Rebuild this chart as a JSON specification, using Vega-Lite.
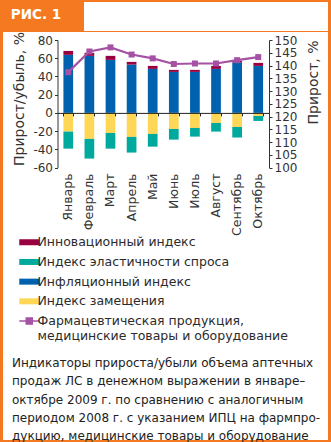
{
  "$schema": "https://vega.github.io/schema/vega-lite/v6.json",
  "background": "#F47920",
  "padding": {"left": 3, "right": 3, "top": 2, "bottom": 3},
  "spacing": 0,
  "datasets": {
    "bars": [
      {"m": "Январь", "s": "Инфляционный индекс", "v": 63.7},
      {"m": "Январь", "s": "Инновационный индекс", "v": 4.3},
      {"m": "Январь", "s": "Индекс замещения", "v": -20.5},
      {"m": "Январь", "s": "Индекс эластичности спроса", "v": -18.7},
      {"m": "Февраль", "s": "Инфляционный индекс", "v": 62.6},
      {"m": "Февраль", "s": "Инновационный индекс", "v": 3.3},
      {"m": "Февраль", "s": "Индекс замещения", "v": -28.5},
      {"m": "Февраль", "s": "Индекс эластичности спроса", "v": -21.6},
      {"m": "Март", "s": "Инфляционный индекс", "v": 58.2},
      {"m": "Март", "s": "Инновационный индекс", "v": 4.4},
      {"m": "Март", "s": "Индекс замещения", "v": -22.0},
      {"m": "Март", "s": "Индекс эластичности спроса", "v": -17.2},
      {"m": "Апрель", "s": "Инфляционный индекс", "v": 53.0},
      {"m": "Апрель", "s": "Инновационный индекс", "v": 3.0},
      {"m": "Апрель", "s": "Индекс замещения", "v": -26.3},
      {"m": "Апрель", "s": "Индекс эластичности спроса", "v": -17.2},
      {"m": "Май", "s": "Инфляционный индекс", "v": 48.3},
      {"m": "Май", "s": "Инновационный индекс", "v": 3.3},
      {"m": "Май", "s": "Индекс замещения", "v": -23.0},
      {"m": "Май", "s": "Индекс эластичности спроса", "v": -14.0},
      {"m": "Июнь", "s": "Инфляционный индекс", "v": 45.0},
      {"m": "Июнь", "s": "Инновационный индекс", "v": 2.2},
      {"m": "Июнь", "s": "Индекс замещения", "v": -17.6},
      {"m": "Июнь", "s": "Индекс эластичности спроса", "v": -11.7},
      {"m": "Июль", "s": "Инфляционный индекс", "v": 45.0},
      {"m": "Июль", "s": "Инновационный индекс", "v": 2.2},
      {"m": "Июль", "s": "Индекс замещения", "v": -16.5},
      {"m": "Июль", "s": "Индекс эластичности спроса", "v": -9.5},
      {"m": "Август", "s": "Инфляционный индекс", "v": 48.3},
      {"m": "Август", "s": "Инновационный индекс", "v": 3.3},
      {"m": "Август", "s": "Индекс замещения", "v": -11.0},
      {"m": "Август", "s": "Индекс эластичности спроса", "v": -9.5},
      {"m": "Сентябрь", "s": "Инфляционный индекс", "v": 55.5},
      {"m": "Сентябрь", "s": "Инновационный индекс", "v": 1.5},
      {"m": "Сентябрь", "s": "Индекс замещения", "v": -15.4},
      {"m": "Сентябрь", "s": "Индекс эластичности спроса", "v": -11.6},
      {"m": "Октябрь", "s": "Инфляционный индекс", "v": 51.6},
      {"m": "Октябрь", "s": "Инновационный индекс", "v": 3.3},
      {"m": "Октябрь", "s": "Индекс замещения", "v": -3.3},
      {"m": "Октябрь", "s": "Индекс эластичности спроса", "v": -5.5}
    ],
    "cpi": [
      {"m": "Январь", "v": 137.4},
      {"m": "Февраль", "v": 145.5},
      {"m": "Март", "v": 147.1},
      {"m": "Апрель", "v": 144.3},
      {"m": "Май", "v": 142.8},
      {"m": "Июнь", "v": 140.6},
      {"m": "Июль", "v": 140.8},
      {"m": "Август", "v": 140.8},
      {"m": "Сентябрь", "v": 142.1},
      {"m": "Октябрь", "v": 143.3}
    ]
  },
  "vconcat": [
    {
      "spacing": 0,
      "hconcat": [
        {
          "width": 81,
          "height": 29,
          "view": {"fill": "#F47920", "stroke": null},
          "data": {"values": [{"t": "РИС. 1"}]},
          "mark": {"type": "text", "color": "white", "font": "DejaVu Sans", "fontSize": 13.5, "fontWeight": "bold", "dx": -7.5, "dy": -1.5},
          "encoding": {"text": {"field": "t", "type": "nominal"}}
        },
        {
          "width": 244,
          "height": 29,
          "view": {"fill": "white", "stroke": null},
          "data": {"values": [{"t": ""}]},
          "mark": {"type": "text"},
          "encoding": {"text": {"field": "t", "type": "nominal"}}
        }
      ]
    },
    {
      "width": 325,
      "height": 408,
      "view": {"fill": "white", "stroke": null},
      "title": {
        "text": [
          "Индикаторы прироста/убыли объема аптечных",
          "продаж ЛС в денежном выражении в январе–",
          "октябре 2009 г. по сравнению с аналогичным",
          "периодом 2008 г. с указанием ИПЦ на фармпро-",
          "дукцию, медицинские товары и оборудование"
        ],
        "orient": "bottom",
        "anchor": "start",
        "frame": "group",
        "offset": -73,
        "dx": 9,
        "baseline": "alphabetic",
        "font": "DejaVu Sans",
        "fontSize": 12,
        "fontWeight": "normal",
        "lineHeight": 18.3,
        "color": "#222222"
      },
      "resolve": {"scale": {"y": "independent"}, "axis": {"x": "independent"}},
      "layer": [
        {
          "data": {"name": "bars"},
          "encoding": {
            "x": {
              "field": "m",
              "type": "nominal",
              "scale": {
                "domain": ["Январь", "Февраль", "Март", "Апрель", "Май", "Июнь", "Июль", "Август", "Сентябрь", "Октябрь"],
                "range": [54.5, 266],
                "paddingInner": 0.54,
                "paddingOuter": 0.28
              },
              "axis": {
                "orient": "bottom",
                "offset": -272.4,
                "title": null,
                "domain": false,
                "ticks": false,
                "tickSize": 0,
                "labelAngle": 270,
                "labelAlign": "right",
                "labelBaseline": "middle",
                "labelPadding": 5.4,
                "labelFontSize": 12.5
              }
            },
            "y": {
              "field": "v",
              "type": "quantitative",
              "stack": "zero",
              "scale": {"domain": [-60, 80], "range": [135.6, 8], "nice": false},
              "axis": {
                "orient": "left",
                "offset": -54.5,
                "values": [-60, -40, -20, 0, 20, 40, 60, 80],
                "labelExpr": "datum.value",
                "grid": false,
                "title": "Прирост/убыль, %",
                "titleAngle": 270,
                "titleX": -38.5,
                "titleY": 66.5,
                "titleAlign": "center",
                "titleBaseline": "middle",
                "titleFontSize": 14
              }
            },
            "color": {
              "field": "s",
              "type": "nominal",
              "scale": {
                "domain": ["Инновационный индекс", "Индекс эластичности спроса", "Инфляционный индекс", "Индекс замещения", "Фармацевтическая продукция, медицинские товары и оборудование"],
                "range": ["#98003F", "#00A99D", "#0062AF", "#FFD757", "#A552A5"]
              },
              "legend": {
                "title": null,
                "orient": "none",
                "legendX": 20,
                "legendY": 234,
                "direction": "vertical",
                "symbolSize": 400,
                "symbolType": "square",
                "labelFontSize": 12.5,
                "labelLimit": 320,
                "labelOffset": 2,
                "labelBaseline": "middle",
                "rowPadding": 6.7,
                "padding": 0,
                "labelExpr": "datum.index == 4 ? ['Фармацевтическая продукция,', 'медицинские товары и оборудование'] : datum.label",
                "encode": {
                  "symbols": {
                    "update": {
                      "shape": {"signal": "datum.index == 4 ? 'M-1,0H1M-0.3,-0.3H0.3V0.3H-0.3Z' : 'M-1,-0.3H1V0.3H-1Z'"},
                      "fill": {"scale": "color", "field": "value"},
                      "stroke": {"scale": "color", "field": "value"},
                      "strokeWidth": {"signal": "datum.index == 4 ? 1.5 : 0"},
                      "opacity": {"value": 1}
                    }
                  }
                }
              }
            }
          },
          "layer": [
            {
              "transform": [{"filter": "datum.v > 0"}],
              "mark": {"type": "bar"},
              "encoding": {"order": {"field": "s", "sort": "descending"}}
            },
            {
              "transform": [{"filter": "datum.v < 0"}],
              "mark": {"type": "bar"},
              "encoding": {"order": {"field": "s", "sort": "ascending"}}
            }
          ]
        },
        {
          "data": {"name": "cpi"},
          "encoding": {
            "x": {
              "field": "m",
              "type": "nominal",
              "axis": {
                "orient": "bottom",
                "offset": -327.1,
                "title": null,
                "labels": false,
                "tickBand": "extent",
                "tickSize": 3,
                "zindex": 1,
                "domainColor": "#222222",
                "tickColor": "#222222"
              }
            },
            "y": {
              "field": "v",
              "type": "quantitative",
              "scale": {"domain": [100, 150], "range": [135.6, 8], "nice": false, "zero": false},
              "axis": {
                "orient": "right",
                "offset": -59,
                "values": [100, 105, 110, 115, 120, 125, 130, 135, 140, 145, 150],
                "grid": false,
                "title": "Прирост, %",
                "titleAngle": 270,
                "titleX": 44,
                "titleY": 50,
                "titleAlign": "center",
                "titleBaseline": "middle",
                "titleFontSize": 14
              }
            },
            "color": {"datum": "Фармацевтическая продукция, медицинские товары и оборудование", "type": "nominal"}
          },
          "layer": [
            {"mark": {"type": "line", "strokeWidth": 2.2}},
            {"mark": {"type": "point", "shape": "square", "filled": true, "size": 36, "opacity": 1}}
          ]
        }
      ]
    }
  ],
  "config": {
    "view": {"stroke": null},
    "font": "DejaVu Sans",
    "axis": {
      "labelFont": "DejaVu Sans",
      "labelFontSize": 12,
      "labelColor": "#333333",
      "titleFont": "DejaVu Sans",
      "titleFontWeight": "normal",
      "titleColor": "#333333",
      "domainColor": "#333333",
      "tickColor": "#333333",
      "tickSize": 3,
      "labelPadding": 2
    },
    "legend": {
      "labelFont": "DejaVu Sans",
      "labelColor": "#2b2b2b"
    }
  }
}
